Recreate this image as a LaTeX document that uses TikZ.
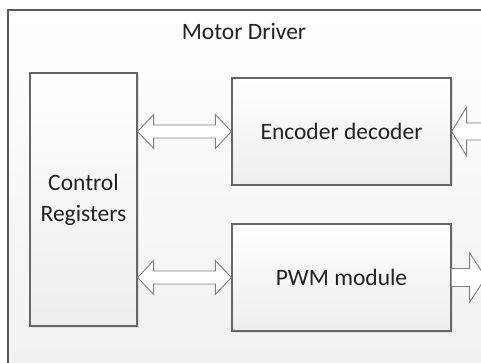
\documentclass[tikz,border=0pt]{standalone}
\usepackage{fontspec}
\setmainfont{Carlito}
\usetikzlibrary{calc,shadows}
\definecolor{edgec}{HTML}{666666}
\definecolor{txt}{HTML}{222222}
\newcommand\dblarrow[2]{%
  \draw[barrow] (#1) -- ++(16,-17) -- ++(0,10.5) -- ($(#2)+(-16,-6.5)$) -- ++(0,-10.5)
    -- (#2) -- ++(-16,17) -- ++(0,-10.5) -- ($(#1)+(16,6.5)$) -- ++(0,10.5) -- cycle;}
\begin{document}
\begin{tikzpicture}[x=1pt,y=-1pt,
  blk/.style={draw=edgec, line width=1.3pt, top color=white, bottom color=black!7,
    inner sep=0pt, align=center, text=txt, font=\fontsize{23.5}{31}\selectfont,
    drop shadow={shadow xshift=1.5pt, shadow yshift=-1.5pt, fill=black!12, opacity=1}},
  barrow/.style={draw=black!50, line width=0.9pt, fill=white, line join=miter},
  lbl/.style={text=txt, font=\fontsize{23.5}{31}\selectfont, inner sep=0pt}]
\useasboundingbox (0,0) rectangle (481,363);
\clip (0,0) rectangle (481,363);
\fill[white] (0,0) rectangle (481,363);
\draw[draw=black!65, line width=1.2pt, top color=white, bottom color=black!6] (8,10) rectangle (520,390);
\node[lbl] (title) at (244,32) {Motor Driver};
\node[blk, minimum width=107, minimum height=253] (cr) at (83.5,199.5) {Control\\Registers};
\node[blk, minimum width=219, minimum height=107] (enc) at (341.5,131.5) {Encoder decoder};
\node[blk, minimum width=219, minimum height=107] (pwm) at (341.5,277.5) {PWM module};
\coordinate (l1) at (cr.east |- enc.west);
\coordinate (l2) at (cr.east |- pwm.west);
\dblarrow{l1}{enc.west}
\dblarrow{l2}{pwm.west}
\draw[barrow] (enc.east) -- ++(15,-24.5) -- ++(0,16) -- ++(40,0) -- ++(0,17) -- ++(-40,0) -- ++(0,16) -- cycle;
\draw[barrow] ($(pwm.east)+(0,-9)$) -- ++(18,0) -- ++(0,-15.5) -- ++(16,24.5) -- ++(-16,24.5) -- ++(0,-15.5) -- ++(-18,0);
\end{tikzpicture}
\end{document}
